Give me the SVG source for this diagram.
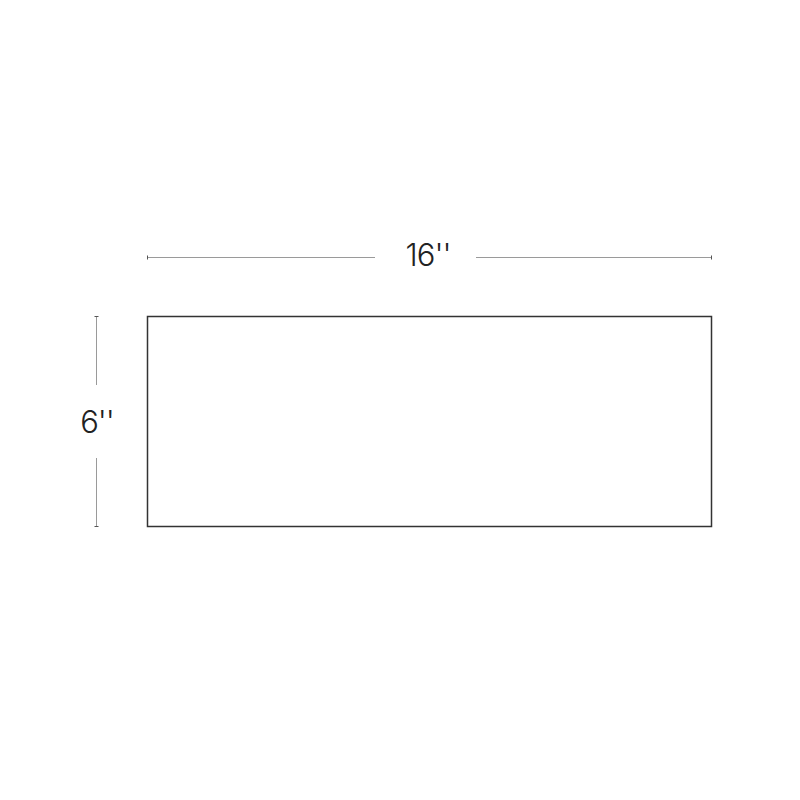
<svg xmlns="http://www.w3.org/2000/svg" width="800" height="800" viewBox="0 0 800 800">
<style>
.dim{stroke:#9a9a9a;stroke-width:1;fill:none}
.tick{stroke:#555;stroke-width:1;fill:none}
.lbl{font-family:"Inter","Liberation Sans",sans-serif;font-size:31px;fill:#222;font-weight:300;letter-spacing:-1px}
</style>
<rect width="800" height="800" fill="#fff"/>
<g id="box"><rect x="147.5" y="316.5" width="564" height="210" fill="#fff" stroke="#333" stroke-width="1.5"/></g>
<g id="connectors">
<line class="dim" x1="147" y1="257.5" x2="375" y2="257.5"/>
<line class="dim" x1="476" y1="257.5" x2="711" y2="257.5"/>
<line class="tick" x1="147.5" y1="255.5" x2="147.5" y2="259.5"/>
<line class="tick" x1="711.5" y1="255.5" x2="711.5" y2="259.5"/>
<line class="dim" x1="96.5" y1="316" x2="96.5" y2="385"/>
<line class="dim" x1="96.5" y1="458" x2="96.5" y2="527"/>
<line class="tick" x1="94.5" y1="316.5" x2="98.5" y2="316.5"/>
<line class="tick" x1="94.5" y1="526.5" x2="98.5" y2="526.5"/>
</g>
<g id="width-label"><text class="lbl" x="428" y="266" text-anchor="middle">16''</text></g>
<g id="height-label"><text class="lbl" x="97" y="433" text-anchor="middle">6''</text></g>
</svg>
